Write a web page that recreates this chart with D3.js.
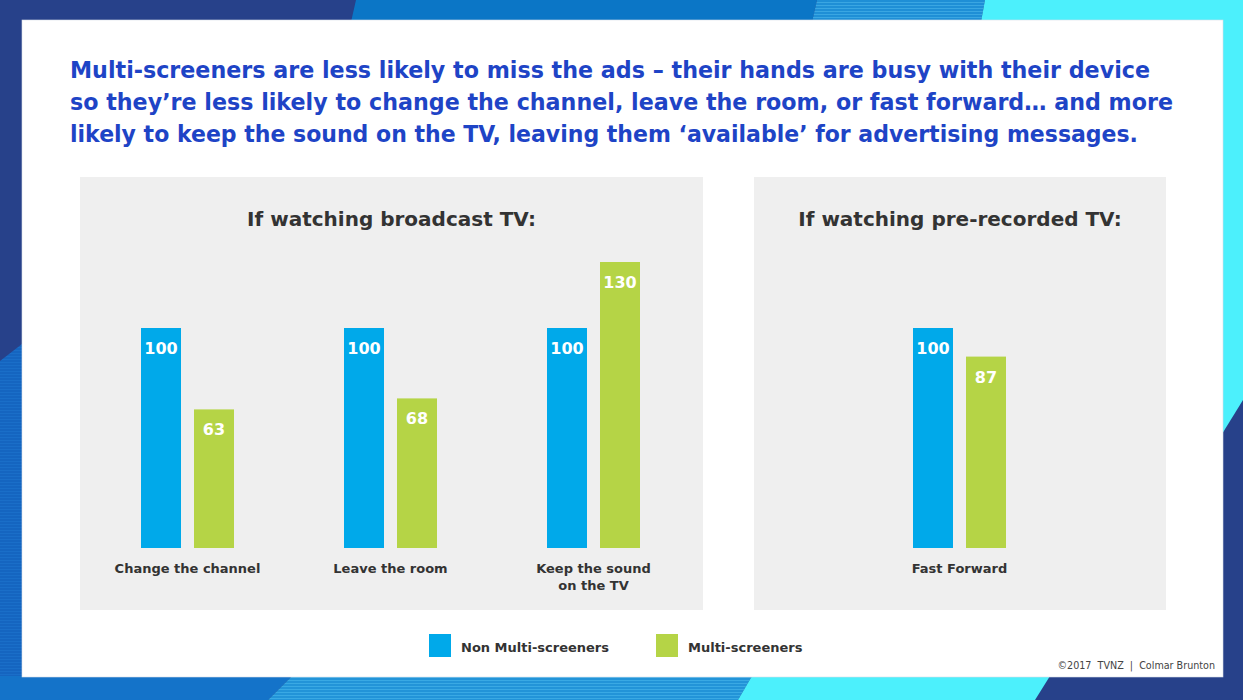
<!DOCTYPE html>
<html>
<head>
<meta charset="utf-8">
<script src="https://cdn.jsdelivr.net/npm/d3@7"></script>
<style>
  body { margin: 0; background: #fff; }
  svg text { font-family: "DejaVu Sans", sans-serif; }
</style>
</head>
<body>
<svg id="chart"></svg>
<script>
// Chart data
var categories = ["Change the channel", "Leave the room", "Keep the sound on the TV", "Fast Forward"];
var categoryLines = [["Change the channel"], ["Leave the room"], ["Keep the sound", "on the TV"], ["Fast Forward"]];
var seriesNames = ["Non Multi-screeners", "Multi-screeners"];
var nonMultiValues = [100, 100, 100, 100];
var multiValues = [63, 68, 130, 87];
var panelTitles = ["If watching broadcast TV:", "If watching pre-recorded TV:"];
var panelCategories = [categories.slice(0, 3), categories.slice(3)];
var headlineLines = [
    "Multi-screeners are less likely to miss the ads \u2013 their hands are busy with their device",
    "so they\u2019re less likely to change the channel, leave the room, or fast forward\u2026 and more",
    "likely to keep the sound on the TV, leaving them \u2018available\u2019 for advertising messages."
];
var footnote = "\u00a92017  TVNZ  |  Colmar Brunton";

var width = 1243, height = 700;
var navy = "#27418a", midBlue = "#0b76c6", cyan = "#4cf0fc";
var barColor = d3.scaleOrdinal().domain(seriesNames).range(["#00a9ea", "#b5d446"]);

var svg = d3.select("#chart").attr("width", width).attr("height", height);

// Stripe pattern for the frame
var defs = svg.append("defs");
function stripes(id, base, line) {
    var p = defs.append("pattern").attr("id", id).attr("width", 4).attr("height", 3)
        .attr("patternUnits", "userSpaceOnUse");
    p.append("rect").attr("width", 4).attr("height", 3).attr("fill", base);
    p.append("rect").attr("y", 2).attr("width", 4).attr("height", 1).attr("fill", line);
}
stripes("stripeTop", "#1f8fd6", "#3aa6e2");
stripes("stripeLeft", "#1565c0", "#1a6ec8");
stripes("stripeBottom", "#2294d8", "#39a9e4");

// Frame background
var frame = svg.append("g");
function poly(pts, fill) {
    frame.append("polygon").attr("points", pts.map(function(p) { return p.join(","); }).join(" ")).attr("fill", fill);
}
poly([[0, 0], [1243, 0], [1243, 700], [0, 700]], navy);
// top strip
poly([[356, 0], [817, 0], [812, 22], [351, 22]], midBlue);
poly([[817, 0], [985, 0], [981, 22], [812, 22]], "url(#stripeTop)");
poly([[985, 0], [1243, 0], [1243, 22], [981, 22]], cyan);
// right side
poly([[1222, 0], [1243, 0], [1243, 400], [1222, 434]], cyan);
// left side
poly([[0, 361], [22, 344], [22, 700], [0, 700]], "url(#stripeLeft)");
// bottom strip
poly([[0, 676], [292, 676], [268, 700], [0, 700]], "#1473c9");
poly([[292, 676], [752, 676], [738, 700], [268, 700]], "url(#stripeBottom)");
poly([[752, 676], [1050, 676], [1035, 700], [738, 700]], cyan);

// White card
svg.append("rect").attr("x", 22).attr("y", 20).attr("width", 1201).attr("height", 657)
    .attr("fill", "#fff").attr("stroke", "#d8dde6").attr("stroke-width", 0.6);

// Headline
var headTargets = [1080, 1103, 1068];
svg.append("g").selectAll("text").data(headlineLines).enter().append("text")
    .attr("x", 70)
    .attr("y", function(d, i) { return 78 + i * 32; })
    .attr("textLength", function(d, i) { return headTargets[i]; })
    .attr("lengthAdjust", "spacingAndGlyphs")
    .attr("font-size", 23)
    .attr("font-weight", "bold")
    .attr("fill", "#1e44c6")
    .text(function(d) { return d; });

// Panels
var panels = [
    { x: 80, w: 623, title: panelTitles[0], cats: panelCategories[0], range: [86, 695] },
    { x: 754, w: 412, title: panelTitles[1], cats: panelCategories[1], range: [858, 1061] }
];

var y = d3.scaleLinear().domain([0, 130]).range([548, 262]);

panels.forEach(function(p) {
    var g = svg.append("g");
    g.append("rect").attr("x", p.x).attr("y", 177).attr("width", p.w).attr("height", 433).attr("fill", "#efefef");
    g.append("text")
        .attr("x", p.x + p.w / 2).attr("y", 226)
        .attr("text-anchor", "middle")
        .attr("font-size", 20).attr("font-weight", "bold").attr("fill", "#333")
        .text(p.title);

    var x0 = d3.scaleBand().domain(p.cats).range(p.range)
        .paddingInner(110 / 203).paddingOuter(55 / 203);
    var x1 = d3.scaleBand().domain(seriesNames).range([0, x0.bandwidth()])
        .paddingInner(13 / 53).paddingOuter(0);

    var rows = [];
    p.cats.forEach(function(c) {
        var i = categories.indexOf(c);
        rows.push({ cat: c, series: seriesNames[0], value: nonMultiValues[i] });
        rows.push({ cat: c, series: seriesNames[1], value: multiValues[i] });
    });

    g.selectAll(".bar").data(rows).enter().append("rect")
        .attr("class", "bar")
        .attr("x", function(d) { return x0(d.cat) + x1(d.series); })
        .attr("y", function(d) { return y(d.value); })
        .attr("width", x1.bandwidth())
        .attr("height", function(d) { return y(0) - y(d.value); })
        .attr("fill", function(d) { return barColor(d.series); });

    g.selectAll(".val").data(rows).enter().append("text")
        .attr("class", "val")
        .attr("x", function(d) { return x0(d.cat) + x1(d.series) + x1.bandwidth() / 2; })
        .attr("y", function(d) { return y(d.value) + 26; })
        .attr("text-anchor", "middle")
        .attr("font-size", 16).attr("font-weight", "bold").attr("fill", "#fff")
        .text(function(d) { return d.value; });

    var labels = g.selectAll(".cat").data(p.cats).enter().append("text")
        .attr("class", "cat")
        .attr("x", function(d) { return x0(d) + x0.bandwidth() / 2; })
        .attr("y", 573)
        .attr("text-anchor", "middle")
        .attr("font-size", 13).attr("font-weight", "bold").attr("fill", "#333");
    labels.selectAll("tspan")
        .data(function(d) { return categoryLines[categories.indexOf(d)]; })
        .enter().append("tspan")
        .attr("x", function() { var c = d3.select(this.parentNode).datum(); return x0(c) + x0.bandwidth() / 2; })
        .attr("dy", function(d, i) { return i === 0 ? 0 : 17; })
        .text(function(d) { return d; });
});

// Legend
var legendX = [429, 656];
var legend = svg.append("g");
legend.selectAll("rect").data(seriesNames).enter().append("rect")
    .attr("x", function(d, i) { return legendX[i]; })
    .attr("y", 634).attr("width", 22).attr("height", 23)
    .attr("fill", function(d) { return barColor(d); });
legend.selectAll("text").data(seriesNames).enter().append("text")
    .attr("x", function(d, i) { return legendX[i] + 32; })
    .attr("y", 652)
    .attr("font-size", 13).attr("font-weight", "bold").attr("fill", "#333")
    .text(function(d) { return d; });

// Footnote
svg.append("text")
    .attr("x", 1215).attr("y", 669)
    .attr("text-anchor", "end")
    .attr("font-size", 9.6).attr("fill", "#444")
    .attr("xml:space", "preserve")
    .style("white-space", "pre")
    .text(footnote);
</script>
</body>
</html>
